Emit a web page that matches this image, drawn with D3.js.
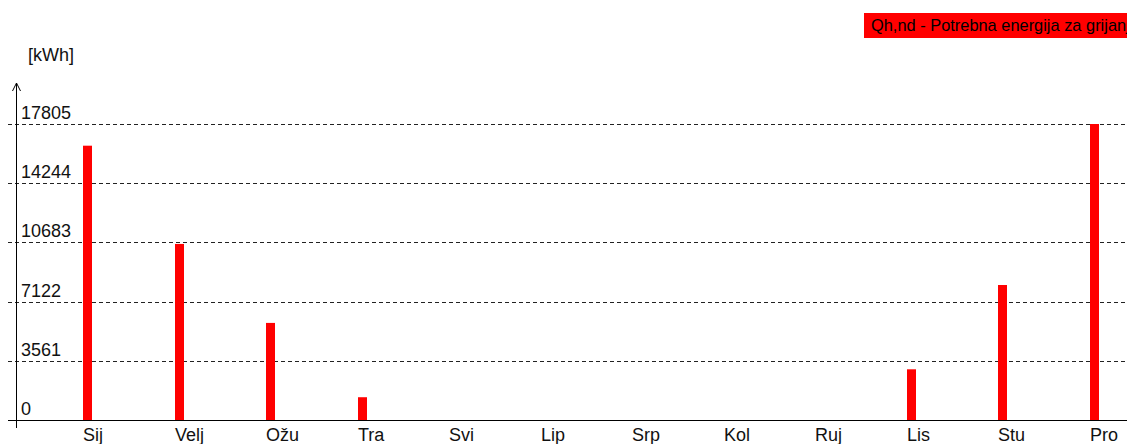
<!DOCTYPE html>
<html>
<head>
<meta charset="utf-8">
<script src="https://cdn.jsdelivr.net/npm/d3@7"></script>
<style>
    html, body { margin: 0; padding: 0; background: #fff; overflow: hidden; }
    svg { display: block; }
</style>
</head>
<body>
<svg id="chart"></svg>
<script>
const width = 1127, height = 444; // Window size

// Months (Croatian short names) and monthly heating energy, kWh
const months = ["Sij", "Velj", "Ožu", "Tra", "Svi", "Lip", "Srp", "Kol", "Ruj", "Lis", "Stu", "Pro"];
const energy = [16500, 10590, 5840, 1370, 0, 0, 0, 0, 0, 3050, 8120, 17805];
const yTicks = [0, 3561, 7122, 10683, 14244, 17805];
const unitLabel = "[kWh]";
const legendLabel = "Qh,nd - Potrebna energija za grijanje";

const svg = d3.select("#chart")
    .attr("width", width)
    .attr("height", height)
    .style("font-family", "'Liberation Sans', Arial, sans-serif");

const x = d3.scalePoint()
    .domain(months)
    .range([83, 1089.5]); // left edge of each bar

const y = d3.scaleLinear()
    .domain([0, d3.max(yTicks)])
    .range([420, 124]);

const barWidth = 9;

// dashed grid lines with value labels above them
const grid = svg.append("g").attr("class", "grid");

grid.selectAll("line")
    .data(yTicks.filter(d => d > 0))
    .join("line")
    .attr("x1", 8)
    .attr("x2", width)
    .attr("y1", d => Math.round(y(d)) + 0.5)
    .attr("y2", d => Math.round(y(d)) + 0.5)
    .attr("stroke", "#222")
    .attr("stroke-width", 1)
    .attr("stroke-dasharray", "4,3");

grid.selectAll("text")
    .data(yTicks)
    .join("text")
    .attr("x", 21)
    .attr("y", d => Math.round(y(d)) - 5)
    .attr("font-size", "18px")
    .attr("fill", "#111")
    .text(d => d);

// bars
svg.append("g")
    .selectAll("rect")
    .data(energy)
    .join("rect")
    .attr("x", (d, i) => Math.round(x(months[i])))
    .attr("y", d => y(d))
    .attr("width", barWidth)
    .attr("height", d => y(0) - y(d))
    .attr("fill", "#ff0000");

// base line and vertical axis with arrow
svg.append("line")
    .attr("x1", 8).attr("x2", width)
    .attr("y1", y(0) + 0.5).attr("y2", y(0) + 0.5)
    .attr("stroke", "#000");

svg.append("line")
    .attr("x1", 16.5).attr("x2", 16.5)
    .attr("y1", 83).attr("y2", 428)
    .attr("stroke", "#000");

svg.append("path")
    .attr("d", "M12.5,91 L16.5,83 L20.5,91")
    .attr("fill", "none")
    .attr("stroke", "#000");

svg.append("text")
    .attr("x", 28)
    .attr("y", 61)
    .attr("font-size", "18px")
    .attr("fill", "#111")
    .text(unitLabel);

// month labels, left aligned with the bars
svg.append("g")
    .selectAll("text")
    .data(months)
    .join("text")
    .attr("x", d => Math.round(x(d)))
    .attr("y", 441)
    .attr("font-size", "18px")
    .attr("fill", "#111")
    .text(d => d);

// legend box (runs off the right edge, like the original)
const legend = svg.append("g").attr("transform", "translate(864,13)");

legend.append("rect")
    .attr("width", 300)
    .attr("height", 25)
    .attr("fill", "#ff0000");

legend.append("text")
    .attr("x", 7)
    .attr("y", 18)
    .attr("font-size", "16.4px")
    .attr("fill", "#000")
    .text(legendLabel);
</script>
</body>
</html>
